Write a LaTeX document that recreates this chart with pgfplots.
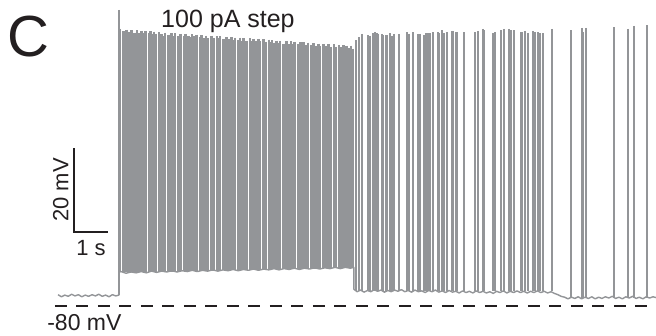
\documentclass[border=0pt]{standalone}
\usepackage{fontspec}
\setmainfont{Liberation Sans}
\usepackage{pgfplots}
\pgfplotsset{compat=1.18}
\usepackage{pgfplotstable}
\definecolor{trace}{RGB}{147,149,152}
\definecolor{ink}{RGB}{35,31,32}

% membrane potential between spikes (time in s, potential in mV)
\pgfplotstableread{
t v
0.00 -77.3
0.10 -77.8
0.20 -77.4
0.30 -77.7
0.40 -77.2
0.50 -77.6
0.60 -77.3
0.70 -77.8
0.80 -77.4
0.90 -77.7
1.00 -77.3
1.10 -77.6
1.20 -77.2
1.30 -77.7
1.40 -77.4
1.50 -77.8
1.60 -77.3
1.70 -77.6
1.79 -77.4
1.79 -72.0
1.85 -71.8
2.00 -72.2
2.15 -71.9
2.30 -72.1
2.45 -71.8
2.60 -72.1
2.75 -71.7
2.90 -72.0
3.05 -71.7
3.20 -71.9
3.35 -71.6
3.50 -71.9
3.65 -71.6
3.80 -71.8
3.95 -71.5
4.10 -71.8
4.25 -71.5
4.40 -71.7
4.55 -71.4
4.70 -71.7
4.85 -71.4
5.00 -71.6
5.15 -71.3
5.30 -71.6
5.45 -71.3
5.60 -71.5
5.75 -71.2
5.90 -71.5
6.05 -71.2
6.20 -71.4
6.35 -71.1
6.50 -71.4
6.65 -71.1
6.80 -71.3
6.95 -71.0
7.10 -71.3
7.25 -71.0
7.40 -71.2
7.55 -70.9
7.70 -71.2
7.85 -70.9
8.00 -71.1
8.15 -70.8
8.30 -71.1
8.45 -70.8
8.60 -71.0
8.70 -70.8
8.70 -76.0
8.80 -76.6
8.90 -76.2
9.00 -76.7
9.10 -76.3
9.20 -76.6
9.30 -76.1
9.40 -76.5
9.50 -76.2
9.60 -76.7
9.70 -76.3
9.80 -76.6
9.90 -76.2
10.00 -76.5
10.10 -76.1
10.20 -76.6
10.30 -76.3
10.40 -76.7
10.50 -76.2
10.60 -76.6
10.70 -76.4
10.80 -76.8
10.90 -76.3
11.00 -76.6
11.10 -76.2
11.20 -76.7
11.30 -76.4
11.40 -76.8
11.50 -76.3
11.60 -76.7
11.70 -76.5
11.80 -76.9
11.90 -76.4
12.00 -76.8
12.10 -76.5
12.20 -76.9
12.30 -76.4
12.40 -76.8
12.50 -76.5
12.60 -76.9
12.70 -76.6
12.80 -77.0
12.90 -76.5
13.00 -76.8
13.10 -76.4
13.20 -76.9
13.30 -76.5
13.40 -76.8
13.50 -76.4
13.60 -76.8
13.70 -76.5
13.80 -76.9
13.90 -76.5
14.00 -76.8
14.10 -76.4
14.20 -76.8
14.30 -76.5
14.40 -76.9
14.50 -76.6
14.60 -77.0
14.70 -77.3
14.80 -77.7
14.90 -77.9
15.00 -78.3
15.10 -77.9
15.20 -78.2
15.30 -77.8
15.40 -78.3
15.50 -77.9
15.60 -78.2
15.70 -77.8
15.80 -78.3
15.90 -77.9
16.00 -78.2
16.10 -77.8
16.20 -78.1
16.30 -77.7
16.40 -78.2
16.50 -77.9
16.60 -78.3
16.70 -77.8
16.80 -78.1
16.90 -77.7
17.00 -78.2
17.10 -77.9
17.20 -78.3
17.30 -77.8
17.40 -78.1
17.50 -77.8
17.59 -78.0
}\membrane

% spikes during tonic firing: time, peak, trough (mV)
\pgfplotstableread{
t pk b
1.79 -9.5 -77.4
1.83 -14.0 -72.0
1.92 -14.6 -72.0
2.01 -14.2 -72.0
2.11 -14.8 -72.0
2.16 -14.3 -72.0
2.25 -14.9 -72.0
2.32 -14.4 -72.0
2.40 -14.9 -71.9
2.45 -14.5 -71.9
2.50 -15.0 -71.9
2.58 -14.6 -71.9
2.67 -15.1 -71.9
2.72 -14.6 -71.9
2.77 -15.2 -71.9
2.82 -14.7 -71.9
2.87 -15.2 -71.9
2.97 -14.8 -71.9
3.05 -15.3 -71.8
3.10 -15.6 -71.8
3.15 -14.9 -71.8
3.25 -15.4 -71.8
3.34 -15.0 -71.8
3.39 -15.6 -71.8
3.44 -15.1 -71.8
3.55 -15.6 -71.8
3.60 -15.2 -71.7
3.70 -15.8 -71.7
3.75 -15.2 -71.7
3.84 -15.7 -71.7
3.89 -16.0 -71.7
3.94 -15.3 -71.7
3.99 -15.8 -71.7
4.08 -15.4 -71.7
4.17 -16.0 -71.7
4.22 -15.5 -71.6
4.31 -16.1 -71.6
4.36 -15.6 -71.6
4.41 -16.2 -71.6
4.52 -15.6 -71.6
4.57 -16.2 -71.6
4.67 -15.8 -71.6
4.72 -16.3 -71.6
4.77 -15.8 -71.6
4.87 -16.4 -71.5
4.96 -15.9 -71.5
5.01 -16.5 -71.5
5.11 -16.0 -71.5
5.16 -16.6 -71.5
5.21 -16.1 -71.5
5.31 -16.7 -71.5
5.36 -16.1 -71.5
5.41 -16.8 -71.4
5.46 -16.2 -71.4
5.55 -16.8 -71.4
5.64 -16.3 -71.4
5.69 -16.9 -71.4
5.75 -16.4 -71.4
5.84 -17.0 -71.4
5.89 -16.4 -71.4
5.94 -17.0 -71.4
6.05 -16.5 -71.3
6.10 -17.1 -71.3
6.20 -16.6 -71.3
6.25 -17.2 -71.3
6.30 -16.7 -71.3
6.35 -17.3 -71.3
6.43 -16.8 -71.3
6.48 -17.4 -71.3
6.53 -16.8 -71.3
6.63 -17.5 -71.2
6.72 -16.9 -71.2
6.81 -17.6 -71.2
6.86 -17.0 -71.2
6.91 -17.6 -71.2
6.96 -17.1 -71.2
7.08 -17.7 -71.2
7.13 -17.2 -71.2
7.18 -17.8 -71.2
7.22 -17.2 -71.1
7.31 -17.9 -71.1
7.36 -17.3 -71.1
7.46 -17.9 -71.1
7.51 -17.4 -71.1
7.61 -18.0 -71.1
7.66 -17.5 -71.1
7.71 -18.1 -71.1
7.81 -17.6 -71.0
7.86 -18.2 -71.0
7.96 -17.6 -71.0
8.01 -18.3 -71.0
8.11 -17.7 -71.0
8.16 -18.3 -71.0
8.26 -17.8 -71.0
8.31 -18.4 -71.0
8.40 -17.9 -70.9
8.45 -18.6 -70.9
8.49 -18.0 -70.9
8.58 -18.6 -70.9
8.62 -18.0 -70.9
8.66 -18.7 -70.9
}\densespikes

% spikes during irregular firing
\pgfplotstableread{
t pk b
8.76 -16.7 -76.5
8.85 -16.0 -76.5
8.94 -15.2 -76.5
9.12 -15.5 -76.5
9.18 -15.7 -76.5
9.26 -15.0 -76.5
9.32 -14.8 -76.5
9.38 -15.0 -76.5
9.41 -15.2 -76.5
9.53 -15.2 -76.5
9.56 -15.5 -76.5
9.65 -15.5 -76.5
9.68 -15.5 -76.5
9.76 -15.0 -76.5
9.82 -15.7 -76.5
9.88 -15.2 -76.5
10.03 -15.2 -76.5
10.26 -14.8 -76.5
10.32 -15.2 -76.5
10.44 -14.8 -76.5
10.59 -15.2 -76.5
10.65 -15.2 -76.5
10.76 -15.5 -76.5
10.82 -15.0 -76.5
10.88 -15.0 -76.5
10.94 -15.0 -76.5
11.03 -14.8 -76.5
11.18 -14.8 -76.5
11.21 -15.0 -76.5
11.29 -14.3 -76.5
11.35 -15.0 -76.5
11.44 -14.8 -76.5
11.59 -14.5 -76.5
11.62 -14.5 -76.5
11.71 -14.8 -76.5
11.74 -14.8 -76.5
11.94 -14.8 -76.5
12.26 -14.8 -76.5
12.35 -14.5 -76.5
12.50 -14.0 -76.5
12.53 -14.3 -76.5
12.79 -15.0 -76.5
12.85 -14.8 -76.5
13.03 -14.3 -76.5
13.12 -14.0 -76.5
13.26 -14.0 -76.5
13.32 -14.3 -76.5
13.41 -14.3 -76.5
13.62 -14.8 -76.5
13.65 -14.8 -76.5
13.74 -14.5 -76.5
13.82 -15.0 -76.5
13.97 -14.5 -76.5
14.03 -14.8 -76.5
14.12 -14.8 -76.5
14.18 -15.0 -76.5
14.26 -15.0 -76.5
14.53 -14.0 -76.5
15.09 -14.3 -78.0
15.41 -13.8 -78.0
15.44 -14.8 -78.0
15.53 -13.8 -78.0
16.35 -13.6 -78.0
16.76 -14.0 -78.0
16.94 -13.3 -78.0
17.32 -13.1 -78.0
}\sparsespikes

\begin{document}
\begin{tikzpicture}
\begin{axis}[
  width=656pt, height=336pt, scale only axis,
  xmin=-1.706, xmax=17.588, ymin=-87.14, ymax=-7.14,
  hide axis, clip=false]
\path (rel axis cs:0,0) coordinate (bl) (rel axis cs:1,1) coordinate (tr);
% -80 mV reference
\addplot[ink, line width=2.4pt, dash pattern=on 12pt off 9.5pt] coordinates {(-0.09,-80) (17.59,-80)};
% membrane potential
\addplot[trace, line width=1.4pt, line join=round] table[x=t,y=v] {\membrane};
% spikes
\addplot[only marks, mark=*, mark size=0pt, mark options={draw opacity=0, fill opacity=0},
  error bars/.cd, y dir=minus, y explicit, error mark=none,
  error bar style={trace, line width=2.5pt, draw opacity=1}]
  table[x=t, y=pk, y error minus expr=\thisrow{pk}-\thisrow{b}] {\densespikes};
\addplot[only marks, mark=*, mark size=0pt, mark options={draw opacity=0, fill opacity=0},
  error bars/.cd, y dir=minus, y explicit, error mark=none,
  error bar style={trace, line width=1.5pt, draw opacity=1}]
  table[x=t, y=pk, y error minus expr=\thisrow{pk}-\thisrow{b}] {\sparsespikes};
% scale bar
\addplot[ink, line width=1.2pt] coordinates {(0.47,-42.38) (0.47,-62.38) (1.47,-62.38)};
\node[rotate=90, anchor=south, inner sep=0pt, text=ink, font=\fontsize{22}{22}\selectfont] at (axis cs:0.32,-52.38) {20 mV};
\node[anchor=north, inner sep=0pt, text=ink, font=\fontsize{22}{22}\selectfont] at (axis cs:0.97,-64.3) {1 s};
% labels
\node[anchor=base west, inner sep=0pt, text=ink, font=\fontsize{58}{58}\selectfont] at (axis cs:-1.50,-20.7) {C};
\node[anchor=base west, inner sep=0pt, text=ink, font=\fontsize{25}{25}\selectfont] at (axis cs:3.03,-13.8) {100 pA step};
\node[anchor=base west, inner sep=0pt, text=ink, font=\fontsize{23}{23}\selectfont] at (axis cs:-0.32,-85.8) {-80 mV};
\end{axis}
\pgfresetboundingbox
\path[use as bounding box] (bl) rectangle (tr);
\end{tikzpicture}
\end{document}
